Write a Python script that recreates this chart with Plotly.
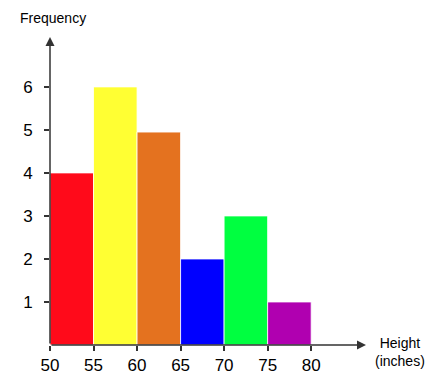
import plotly.graph_objects as go

bin_starts = [50, 55, 60, 65, 70, 75]
bin_width = 5
frequencies = [4, 6, 4.95, 2, 3, 1]
colors = ["#FF0A1A", "#FFFF33", "#E4721F", "#0000FF", "#00FF40", "#B000B0"]
x_ticks = [50, 55, 60, 65, 70, 75, 80]
y_ticks = [1, 2, 3, 4, 5, 6]

centers = [s + bin_width / 2 for s in bin_starts]

fig = go.Figure(go.Bar(
    x=centers, y=frequencies, width=[bin_width] * len(centers),
    marker=dict(color=colors, line=dict(color="rgba(255,255,255,0.8)", width=1)),
    hoverinfo="skip",
))

# page body has an 8px margin, so the figure is offset by 8px
OFF = 8
W, H = 442 - OFF, 377 - OFF
L, T = 50 - OFF, 37 - OFF
pw, ph = 316, 308
R, B = W - L - pw, H - T - ph
xmax = 86.3
ymax = 7.16
axis_color = "#333333"


def px_to_paper(px, py):
    return (px - OFF - L) / pw, 1 - (py - OFF - T) / ph


fx, fy = px_to_paper(18, 8)
hx, hy = px_to_paper(400, 352)

fig.update_layout(
    width=W, height=H,
    margin=dict(l=L, r=R, t=T, b=B, autoexpand=False),
    plot_bgcolor="white", paper_bgcolor="white",
    showlegend=False,
    font=dict(family="Liberation Sans, Arial, sans-serif", size=16, color="black"),
    xaxis=dict(range=[50, xmax], tickvals=x_ticks, ticktext=[str(v) for v in x_ticks],
               showgrid=False, zeroline=False, showline=False,
               ticks="outside", ticklen=5, tickwidth=2, tickcolor=axis_color,
               tickfont=dict(size=17)),
    yaxis=dict(range=[0, ymax], tickvals=y_ticks, showgrid=False, zeroline=False,
               showline=False, ticks="outside", ticklen=5, tickwidth=2,
               tickcolor=axis_color, ticklabelstandoff=8, tickfont=dict(size=17)),
    annotations=[
        dict(x=xmax, y=0, ax=50, ay=0, xref="x", yref="y", axref="x", ayref="y",
             showarrow=True, arrowhead=2, arrowsize=1.2, arrowwidth=1.5,
             arrowcolor=axis_color, text=""),
        dict(x=50, y=ymax, ax=50, ay=0, xref="x", yref="y", axref="x", ayref="y",
             showarrow=True, arrowhead=2, arrowsize=1.2, arrowwidth=1.5,
             arrowcolor=axis_color, text=""),
        dict(x=fx, y=fy, xref="paper", yref="paper", text="Frequency",
             showarrow=False, xanchor="left", yanchor="top",
             font=dict(size=14)),
        dict(x=hx, y=hy, xref="paper", yref="paper", text="Height<br>(inches)",
             showarrow=False, xanchor="center", yanchor="middle",
             font=dict(size=14)),
    ],
)

fig.write_html("out.html")
